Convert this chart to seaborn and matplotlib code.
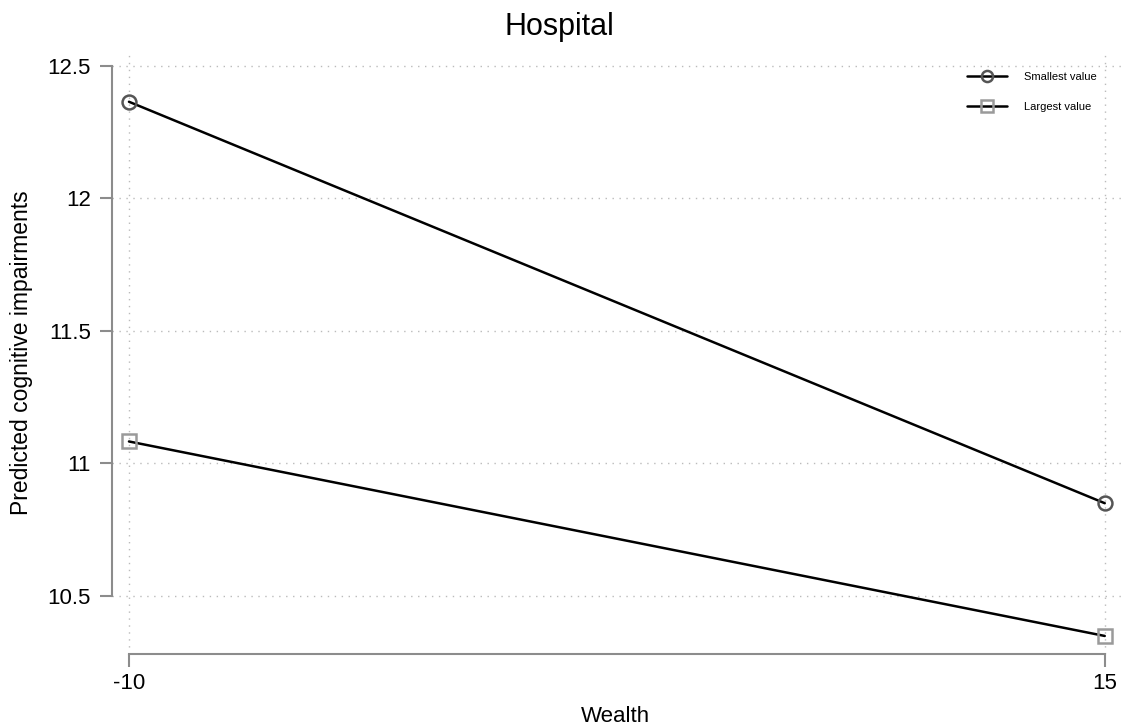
import seaborn as sns
import matplotlib.pyplot as plt
import pandas as pd

sns.set_style("white")
plt.rcParams['font.family'] = ['Liberation Sans', 'DejaVu Sans']
plt.rcParams['axes.unicode_minus'] = False

wealth = [-10, 15]
smallest = [12.365, 10.850]
largest = [11.083, 10.349]
labels = ["Smallest value", "Largest value"]

df = pd.DataFrame({
    "wealth": wealth * 2,
    "pred": smallest + largest,
    "group": [labels[0]] * 2 + [labels[1]] * 2,
})

fig = plt.figure(figsize=(11.32, 7.26), dpi=100)
ax = fig.add_axes([0.0989, 0.0992, 0.8922, 0.8278])

styles = {
    labels[0]: dict(marker="o", markeredgecolor="#555555"),
    labels[1]: dict(marker="s", markeredgecolor="#9a9a9a"),
}
for g in labels:
    sns.lineplot(data=df[df["group"] == g], x="wealth", y="pred", ax=ax,
                 color="black", linewidth=1.8, label=g,
                 markerfacecolor="none", markersize=10, markeredgewidth=1.8,
                 zorder=3, **styles[g])

ax.set_xlim(-10.436, 15.44)
ax.set_ylim(10.281, 12.549)
ax.set_xticks(wealth)
ax.set_xticklabels(["-10", "15"])
ax.set_yticks([10.5, 11, 11.5, 12, 12.5])
ax.set_yticklabels(["10.5", "11", "11.5", "12", "12.5"])
ax.grid(True, linestyle=(0, (1, 4)), color="#bbbbbb", linewidth=1)

for s in ["top", "right"]:
    ax.spines[s].set_visible(False)
ax.spines["left"].set_bounds(10.5, 12.5)
ax.spines["bottom"].set_bounds(-10, 15)
for s in ["left", "bottom"]:
    ax.spines[s].set_color("#8c8c8c")
    ax.spines[s].set_linewidth(1.5)

ax.tick_params(axis="both", direction="out", length=9, width=1.5,
               color="#8c8c8c", labelsize=16, labelcolor="black",
               bottom=True, left=True)
ax.tick_params(axis="y", pad=6)
ax.tick_params(axis="x", pad=5)

fig.text(559 / 1132, 1 - 35 / 726, "Hospital", fontsize=22, color="black",
         ha="center", va="baseline")
ax.set_xlabel("Wealth", fontsize=16, color="black")
ax.set_ylabel("Predicted cognitive impairments", fontsize=16.5, color="black")
ax.xaxis.set_label_coords(0.499, -0.087)
ax.yaxis.set_label_coords(-0.078, 0.502)

ax.legend(loc="upper right", bbox_to_anchor=(0.985, 0.985), frameon=False,
          fontsize=8, handlelength=3.6, handletextpad=1.5, labelspacing=1.8,
          markerscale=0.8, labelcolor="black")

fig.savefig("out.png", dpi=100)
